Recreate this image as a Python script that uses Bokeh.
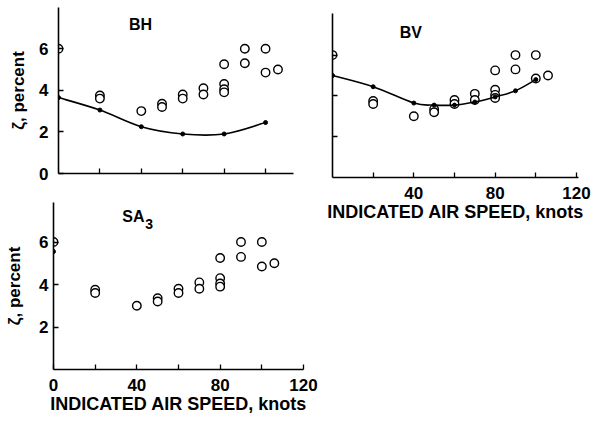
from bokeh.plotting import figure
from bokeh.layouts import row, column
from bokeh.models import FixedTicker, Label
from bokeh.embed import file_html
from bokeh.resources import INLINE

# ---- data ----
speed_open = [0, 20, 20, 40, 50, 50, 60, 60, 70, 70, 80, 80, 80, 80, 90, 90, 100, 100, 106]
zeta_open = [6.0, 3.75, 3.6, 3.0, 3.35, 3.2, 3.8, 3.6, 4.1, 3.8, 5.25, 4.3, 4.05, 3.9, 6.0, 5.3, 6.0, 4.85, 5.0]

bh_speed = [0, 20, 40, 60, 80, 100]
bh_zeta = [3.65, 3.05, 2.25, 1.9, 1.9, 2.45]

bv_speed = [0, 20, 40, 50, 60, 70, 80, 90, 100]
bv_zeta = [5.0, 4.45, 3.65, 3.55, 3.55, 3.7, 3.95, 4.25, 4.8]

sa3_speed = [0]
sa3_zeta = [5.55]

x_major_sa = [0, 40, 80, 120]
x_major_bv = [40, 80, 120]
x_minor = [20, 60, 100]
x_ticks_bh = [20, 40, 60, 80, 100]
y_ticks = [0, 2, 4, 6]
y_ticks_sa = [2, 4, 6]
y_ticks_bv = [2, 4, 6]

FONT = "Liberation Sans"
X_LABEL = "INDICATED AIR SPEED, knots"
Y_LABEL = "\u03b6, percent"


def panel(width, height, bl, br, bt, bb, x_end, y_end):
    p = figure(width=width, height=height, x_range=(0, x_end), y_range=(0, y_end),
               output_backend="svg", toolbar_location=None,
               min_border_left=bl, min_border_right=br, min_border_top=bt, min_border_bottom=bb)
    p.grid.visible = False
    p.outline_line_color = None
    p.background_fill_color = "white"
    p.border_fill_color = "white"
    for ax in (p.xaxis[0], p.yaxis[0]):
        ax.axis_line_width = 1.6
        ax.axis_line_color = "black"
        ax.major_tick_in = 5
        ax.major_tick_out = 0
        ax.major_tick_line_width = 1.3
        ax.major_tick_line_color = "black"
        ax.minor_tick_in = 5
        ax.minor_tick_out = 0
        ax.minor_tick_line_width = 1.3
        ax.minor_tick_line_color = "black"
        ax.major_label_text_font = FONT
        ax.major_label_text_font_style = "bold"
        ax.major_label_text_font_size = "17px"
        ax.major_label_text_color = "black"
        ax.axis_label_text_font = FONT
        ax.axis_label_text_font_style = "bold"
        ax.axis_label_text_color = "black"
    return p


def smooth_curve(p, xs, ys):
    n = len(xs)
    x0, y0, x1, y1, cx0, cy0, cx1, cy1 = [], [], [], [], [], [], [], []
    for i in range(n - 1):
        a = max(i - 1, 0)
        b = min(i + 2, n - 1)
        x0.append(xs[i]); y0.append(ys[i])
        x1.append(xs[i + 1]); y1.append(ys[i + 1])
        cx0.append(xs[i] + (xs[i + 1] - xs[a]) / 6.0)
        cy0.append(ys[i] + (ys[i + 1] - ys[a]) / 6.0)
        cx1.append(xs[i + 1] - (xs[b] - xs[i]) / 6.0)
        cy1.append(ys[i + 1] - (ys[b] - ys[i]) / 6.0)
    p.bezier(x0=x0, y0=y0, x1=x1, y1=y1, cx0=cx0, cy0=cy0, cx1=cx1, cy1=cy1,
             line_color="black", line_width=1.6)


def open_points(p):
    p.scatter(speed_open, zeta_open, marker="circle", size=8.5, fill_color="white",
              line_color="black", line_width=1.4)


def title(p, text, x, y, size="16px", align="center", x_offset=0, y_offset=0):
    p.add_layout(Label(x=x, y=y, text=text, text_font=FONT, text_font_style="bold",
                       text_font_size=size, text_align=align, text_baseline="middle",
                       x_offset=x_offset, y_offset=y_offset, text_color="black"))


# ---- BH (top-left) ----
bh = panel(326, 198, 58, 33, 7, 25, 113.5, 7.98)
bh.xaxis.ticker = FixedTicker(ticks=x_ticks_bh)
bh.xaxis.major_label_text_color = None
bh.xaxis.major_label_standoff = 0
bh.yaxis.ticker = FixedTicker(ticks=y_ticks)
bh.yaxis.major_label_standoff = 10
bh.yaxis.axis_label = Y_LABEL
bh.yaxis.axis_label_text_font_size = "17px"
bh.yaxis.axis_label_standoff = 8
open_points(bh)
smooth_curve(bh, bh_speed, bh_zeta)
bh.scatter(bh_speed, bh_zeta, marker="circle", size=4, fill_color="black", line_color="black")
title(bh, "BH", 39.6, 7.16)

# ---- SA3 (bottom-left) ----
sa = panel(326, 233, 53, 23, 4, 62, 120, 7.86)
sa.xaxis.ticker = FixedTicker(ticks=x_major_sa, minor_ticks=x_minor)
sa.xaxis.major_label_standoff = 9
sa.xaxis.axis_label = X_LABEL
sa.xaxis.axis_label_text_font_size = "18px"
sa.xaxis.axis_label_standoff = 0
sa.yaxis.ticker = FixedTicker(ticks=y_ticks_sa)
sa.yaxis.major_label_standoff = 5
sa.yaxis.axis_label = Y_LABEL
sa.yaxis.axis_label_text_font_size = "17px"
sa.yaxis.axis_label_standoff = 12
open_points(sa)
sa.scatter(sa3_speed, sa3_zeta, marker="circle", size=4, fill_color="black", line_color="black")
title(sa, "SA", 33, 7.2, align="left")
title(sa, "3", 33, 7.2, size="14px", align="left", x_offset=23, y_offset=-7)

# ---- BV (top-right) ----
bv = panel(282, 229, 6, 30, 13, 52, 121, 8.04)
bv.yaxis.ticker = FixedTicker(ticks=y_ticks_bv)
bv.yaxis.major_label_text_color = None
bv.yaxis.major_label_standoff = 0
bv.xaxis.ticker = FixedTicker(ticks=x_major_bv, minor_ticks=x_minor)
bv.xaxis.major_label_standoff = 9
bv.xaxis.axis_label = X_LABEL
bv.xaxis.axis_label_text_font_size = "18px"
bv.xaxis.axis_label_standoff = 0
open_points(bv)
smooth_curve(bv, bv_speed, bv_zeta)
bv.scatter(bv_speed, bv_zeta, marker="circle", size=4, fill_color="black", line_color="black")
title(bv, "BV", 38.5, 7.1)

layout = row(column(row(bh), row(sa)), bv)

open("out.html", "w").write(file_html(layout, INLINE))
